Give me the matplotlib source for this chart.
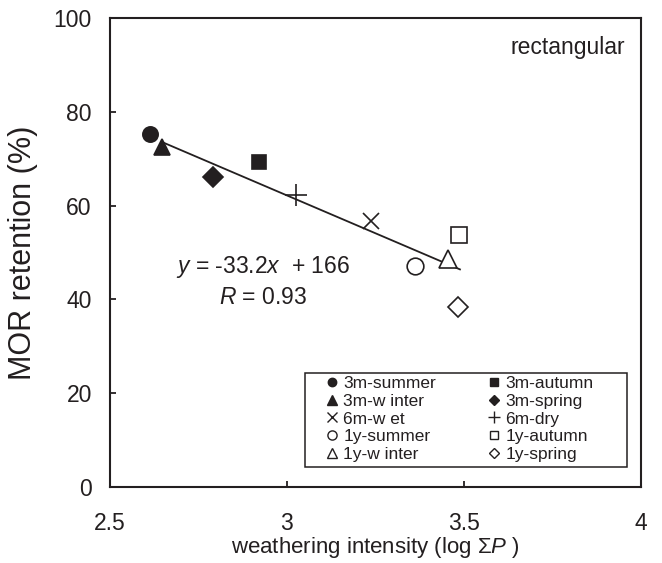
import matplotlib.pyplot as plt
from matplotlib.patches import Rectangle

plt.rcParams['font.family'] = ['Liberation Sans', 'DejaVu Sans']
plt.rcParams['mathtext.fontset'] = 'custom'
plt.rcParams['mathtext.rm'] = 'Liberation Sans'
plt.rcParams['mathtext.it'] = 'Liberation Sans:italic'

INK = '#231f20'

# sample groups (exposure time - season)
labels = ["3m-summer", "3m-autumn", "3m-w inter", "3m-spring", "6m-w et", "6m-dry",
          "1y-summer", "1y-autumn", "1y-w inter", "1y-spring"]
log_p = [2.613, 2.922, 2.648, 2.790, 3.239, 3.025, 3.362, 3.487, 3.456, 3.484]
mor = [75.3, 69.2, 72.4, 66.2, 56.8, 62.3, 47.2, 53.8, 48.6, 38.4]
markers = ["o", "s", "^", "D", "x", "+", "o", "s", "^", "D"]
filled = [True, True, True, True, True, True, False, False, False, False]
sizes = [11, 10.5, 12, 10, 12, 16, 12, 11, 13, 10]

# regression line as drawn in the figure
fit_x = [2.646, 3.489]
fit_y = [73.6, 46.4]

fig = plt.figure(figsize=(6.62, 5.63), dpi=100)
ax = fig.add_axes([0.166, 0.135, 0.802, 0.833])

ax.plot(fit_x, fit_y, color=INK, lw=1.3, zorder=2)

handles = []
for x, y, lab, m, f, s in zip(log_p, mor, labels, markers, filled, sizes):
    fc = INK if f else 'white'
    h, = ax.plot([x], [y], linestyle='none', marker=m, markersize=s,
                 markerfacecolor=fc, markeredgecolor=INK,
                 markeredgewidth=1.2, zorder=3, label=lab)
    handles.append(h)

ax.set_xlim(2.5, 4)
ax.set_ylim(0, 100)
ax.set_xticks([2.5, 3, 3.5, 4])
ax.set_xticklabels(["2.5", "3", "3.5", "4"])
ax.set_yticks([0, 20, 40, 60, 80, 100])
ax.tick_params(axis='both', direction='in', length=4.5, width=1.3,
               labelsize=16.5, colors=INK)
ax.tick_params(axis='x', pad=18)
ax.tick_params(axis='y', pad=13)
for sp in ax.spines.values():
    sp.set_linewidth(1.5)
    sp.set_color(INK)

ax.set_xlabel(r"weathering intensity (log $\Sigma \mathit{P}$ )", fontsize=16,
              color=INK, labelpad=0)
ax.set_ylabel("MOR retention (%)", fontsize=22, color=INK, labelpad=11)

ax.text(0.97, 0.938, "rectangular", transform=ax.transAxes, ha='right',
        va='center', fontsize=16.5, color=INK)
ax.text(2.932, 46.9, r"$\mathit{y}$ = -33.2$\mathit{x}$  + 166", ha='center',
        va='center', fontsize=16.5, color=INK)
ax.text(2.932, 40.3, r"$\mathit{R}$ = 0.93", ha='center', va='center',
        fontsize=16.5, color=INK)

# small legend markers
leg_handles = []
for h in handles:
    lh = plt.Line2D([], [], linestyle='none', marker=h.get_marker(),
                    markersize=h.get_markersize() * 0.55,
                    markerfacecolor=h.get_markerfacecolor(),
                    markeredgecolor=INK, markeredgewidth=1.0)
    leg_handles.append(lh)
# two columns, rows read pairwise
col_order = list(range(0, 10, 2)) + list(range(1, 10, 2))
leg = ax.legend([leg_handles[i] for i in col_order], [labels[i] for i in col_order],
                ncol=2, loc='upper left', bbox_to_anchor=(0.405, 0.237),
                fontsize=12.5, frameon=False, borderpad=0, borderaxespad=0,
                labelspacing=0.15, handletextpad=0.25, handlelength=0.8,
                columnspacing=2.95)
for t in leg.get_texts():
    t.set_color(INK)
ax.add_patch(Rectangle((0.367, 0.043), 0.607, 0.2, transform=ax.transAxes,
                       fill=False, edgecolor=INK, lw=1.1, zorder=4))

fig.savefig("out.png", dpi=100)
